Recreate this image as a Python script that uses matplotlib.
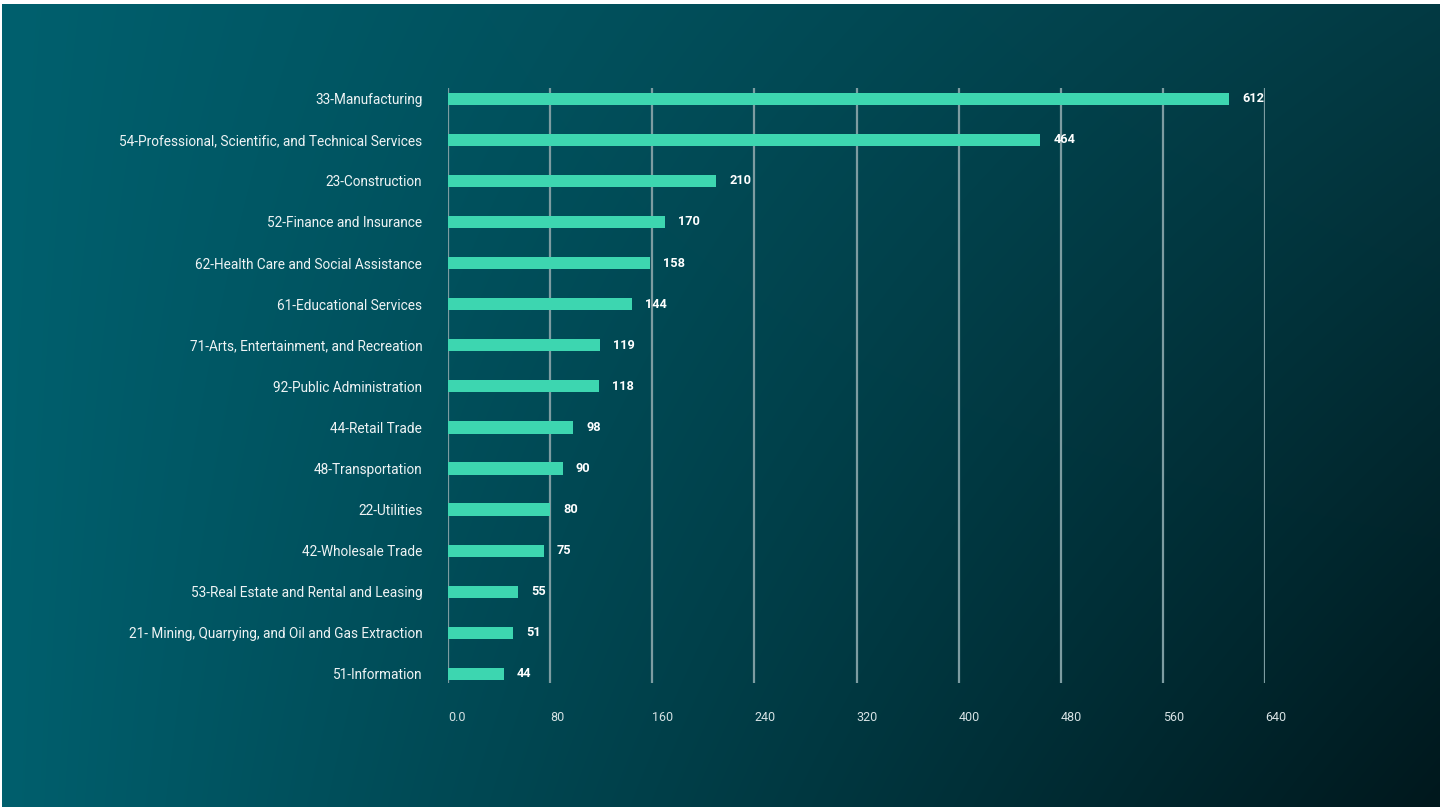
import numpy as np
import matplotlib.pyplot as plt
import matplotlib as mpl

mpl.rcParams["font.family"] = ["Roboto", "DejaVu Sans"]

industries = [
    "33-Manufacturing",
    "54-Professional, Scientific, and Technical Services",
    "23-Construction",
    "52-Finance and Insurance",
    "62-Health Care and Social Assistance",
    "61-Educational Services",
    "71-Arts, Entertainment, and Recreation",
    "92-Public Administration",
    "44-Retail Trade",
    "48-Transportation",
    "22-Utilities",
    "42-Wholesale Trade",
    "53-Real Estate and Rental and Leasing",
    "21- Mining, Quarrying, and Oil and Gas Extraction",
    "51-Information",
]
counts = [612, 464, 210, 170, 158, 144, 119, 118, 98, 90, 80, 75, 55, 51, 44]
xticks = [0, 80, 160, 240, 320, 400, 480, 560, 640]
xtick_labels = ["0.0", "80", "160", "240", "320", "400", "480", "560", "640"]

W, H = 1442, 809
fig = plt.figure(figsize=(W / 100, H / 100), dpi=100, facecolor="white")

# diagonal teal -> near black backdrop, thin white frame around it
bg = fig.add_axes([2 / W, 2 / H, (W - 4) / W, (H - 6) / H])
bg.set_axis_off()
c_tl = np.array([0, 96, 110]) / 255
c_bl = np.array([0, 95, 109]) / 255
c_tr = np.array([3, 58, 67]) / 255
c_br = np.array([0, 24, 29]) / 255
u = np.linspace(0, 1, 400)[None, :, None]
v = np.linspace(0, 1, 240)[:, None, None]
grad = (c_tl * (1 - u) * (1 - v) + c_tr * u * (1 - v)
        + c_bl * (1 - u) * v + c_br * u * v)
bg.imshow(grad, aspect="auto", extent=[0, 1, 1, 0], interpolation="bilinear")
bg.set_xlim(0, 1)
bg.set_ylim(1, 0)

left, right, top, bottom = 448, 1265, 88, 683
ax = fig.add_axes([left / W, 1 - bottom / H, (right - left) / W, (bottom - top) / H])
ax.patch.set_alpha(0)

y = np.arange(len(industries))
ax.barh(y, counts, height=0.3, color="#3dd6b0", zorder=3)

for yi, c in zip(y, counts):
    ax.annotate(str(c), (c, yi), xytext=(13 * 0.72, 0), textcoords="offset points",
                ha="left", va="center", fontsize=9.2, fontweight="bold",
                color="white", zorder=4)

ax.set_xlim(0, 640)
ax.set_ylim(len(industries) - 1 + 0.22, -0.26)

ax.set_xticks(xticks)
ax.set_xticklabels(xtick_labels, ha="left")
ax.set_yticks(y)
ax.set_yticklabels(industries)

ax.grid(axis="x", color="#7d9ca1", linewidth=1.6, zorder=1)
for s in ax.spines.values():
    s.set_visible(False)
ax.tick_params(axis="x", length=0, pad=20, labelsize=9, labelcolor="#d6e2e4")
ax.tick_params(axis="y", length=0, pad=18.5, labelsize=9.8, labelcolor="#eef3f4")

fig.savefig("out.png", dpi=100, facecolor="white")
